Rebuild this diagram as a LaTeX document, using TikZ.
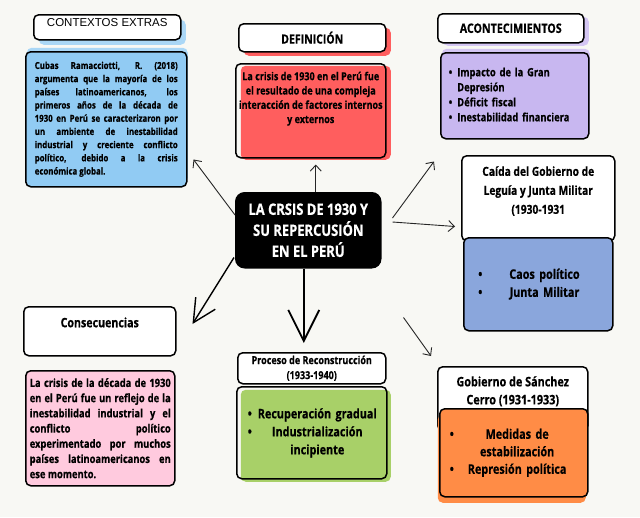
\documentclass[tikz,border=0pt]{standalone}
\usepackage{fontspec}
\setmainfont{Open Sans}
\newfontfamily\cnd{Open Sans}[FakeStretch=0.82,BoldFeatures={FakeBold=0.5}]
\newfontfamily\ars{Liberation Sans}
\usetikzlibrary{arrows.meta,shadows}

\definecolor{bgc}{RGB}{248,248,244}
\definecolor{cblue}{RGB}{145,203,243}
\definecolor{cblueL}{RGB}{170,215,246}
\definecolor{redc}{RGB}{255,94,94}
\definecolor{purc}{RGB}{200,183,240}
\definecolor{purL}{RGB}{212,198,243}
\definecolor{caidc}{RGB}{138,166,220}
\definecolor{pinkc}{RGB}{255,202,222}
\definecolor{grnc}{RGB}{168,208,104}
\definecolor{orgc}{RGB}{255,140,70}

% text held at the top of a box of fixed height
\newcommand{\topbox}[3]{\parbox[c][#1][t]{#2}{\centering #3}}

\begin{document}
\begin{tikzpicture}[x=1pt,y=-1pt,
  box/.style={draw=black,line width=1.5pt,rounded corners=5pt,anchor=north west,inner sep=0pt,align=center},
  ttl/.style={box,fill=white},
  sh/.style n args={3}{drop shadow={shadow xshift=#1,shadow yshift=#2,fill=#3,opacity=1}},
  txt/.style 2 args={font=\cnd\bfseries\fontsize{#1}{#2}\selectfont},
  arr/.style={draw=black!85,line width=0.9pt,-{Straight Barb[length=6pt,width=11pt]}},
  bigarr/.style={draw=black,line width=1.8pt,-{Straight Barb[length=#1,width=#1]}}]
  \fill[bgc] (0,0) rectangle (640,517);
  \useasboundingbox (0,0) rectangle (640,517);

  % contextos
  \node[ttl,sh={5pt}{-5pt}{cblueL},minimum width=147pt,minimum height=25pt,
    font=\ars\fontsize{11.5}{13}\selectfont,text height=9pt,text depth=11pt] (ctxT) at (33,14) {CONTEXTOS EXTRAS};
  \node[box,fill=cblue,sh={1pt}{4pt}{cblueL},minimum width=161pt,minimum height=135pt,
    text width=143pt,align=justify,txt={9.6}{13.2}] (ctxB) at (25,51)
    {Cubas Ramacciotti, R. (2018)\linebreak argumenta que la mayoría de los\linebreak
     países latinoamericanos, los\linebreak primeros años de la década de\linebreak
     1930 en Perú se caracterizaron por\linebreak un ambiente de inestabilidad\linebreak
     industrial y creciente conflicto\linebreak político, debido a la crisis\linebreak
     económica global.};

  % definicion
  \node[ttl,sh={5pt}{-4pt}{redc},minimum width=147pt,minimum height=28pt,txt={12.8}{14}] (defT) at (238,23) {DEFINICIÓN};
  \node[box,sh={5pt}{-2pt}{redc},minimum width=150pt,minimum height=94pt,txt={11}{14.3}] (defB) at (235,63)
    {\topbox{78pt}{150pt}{La crisis de 1930 en el Perú fue\\el resultado de una compleja\\interacción de factores internos\\y externos}};

  % acontecimientos
  \node[ttl,sh={5pt}{-3pt}{purL},minimum width=146pt,minimum height=29pt,txt={13}{14}] (aconT) at (437,13) {ACONTECIMIENTOS};
  \node[box,fill=purc,sh={1pt}{4pt}{purL},minimum width=148pt,minimum height=86pt,
    text width=132pt,align=left,txt={11.4}{15}] (aconB) at (440,52)
    {\begin{tabular}{@{}l@{\hspace{5pt}}l@{}}\textbullet&Impacto de la Gran\\&Depresión\\
     \textbullet&Déficit fiscal\\\textbullet&Inestabilidad financiera\end{tabular}};

  % centro
  \node[box,fill=black,rounded corners=9pt,text=white,minimum width=145pt,minimum height=75pt,txt={15.8}{21}] (ctr) at (235,192)
    {LA CRSIS DE 1930 Y\\SU REPERCUSIÓN\\EN EL PERÚ};

  % caida de leguia
  \node[ttl,minimum width=153pt,minimum height=85pt,txt={12.5}{19}] (caiT) at (461,155)
    {\topbox{64pt}{153pt}{Caída del Gobierno de\\Leguía y Junta Militar\\(1930-1931}};
  \node[box,fill=caidc,minimum width=149pt,minimum height=93pt,text width=120pt,align=left,txt={13.2}{18}] (caiB) at (463,237)
    {\begin{tabular}{@{}l@{\hspace{27pt}}c@{}}\textbullet&Caos político\\\textbullet&Junta Militar\end{tabular}};

  % consecuencias
  \node[ttl,minimum width=152pt,minimum height=49pt,txt={13}{14},text height=9pt,text depth=17pt] (conT) at (23,306) {Consecuencias};
  \node[box,fill=pinkc,minimum width=149pt,minimum height=115pt,text width=141pt,align=justify,txt={11.4}{15.2}] (conB) at (25,370)
    {La crisis de la década de 1930\linebreak en el Perú fue un reflejo de la\linebreak
     inestabilidad industrial y el\linebreak conflicto político\linebreak
     experimentado por muchos\linebreak países latinoamericanos en\linebreak ese momento.};

  % reconstruccion
  \node[ttl,minimum width=148pt,minimum height=31pt,txt={11}{15}] (proT) at (237,352) {Proceso de Reconstrucción\\(1933-1940)};
  \node[box,sh={4pt}{-3pt}{grnc},minimum width=150pt,minimum height=92pt,text width=128pt,align=left,txt={13.2}{18}] (proB) at (236,386)
    {\begin{tabular}{@{}l@{\hspace{6pt}}c@{}}\textbullet&Recuperación gradual\\\textbullet&Industrialización\\&incipiente\end{tabular}};

  % sanchez cerro
  \node[ttl,minimum width=150pt,minimum height=64pt,txt={13.2}{18}] (sanT) at (437,366)
    {\topbox{45pt}{150pt}{Gobierno de Sánchez\\Cerro (1931-1933)}};
  \node[box,fill=orgc,sh={-2pt}{-6pt}{orgc},minimum width=148pt,minimum height=88pt,text width=128pt,align=left,txt={13.2}{17.5}] (sanB) at (439,408)
    {\begin{tabular}{@{}l@{\hspace{14pt}}c@{}}\textbullet&Medidas de\\&estabilización\\\textbullet&Represión política\end{tabular}};

  % flechas
  \draw[arr] ([shift={(0,23)}]ctr.north west) -- ([shift={(6,-28)}]ctxB.south east);
  \draw[arr] ([shift={(7.5,0)}]ctr.north) -- ([shift={(5,6)}]defB.south);
  \draw[arr] ([shift={(11,26)}]ctr.north east) -- ([shift={(-6,22)}]aconB.south west);
  \draw[arr] ([shift={(11,30)}]ctr.north east) -- ([shift={(-6,-15)}]caiT.south west);
  \draw[arr] ([shift={(22,49)}]ctr.south east) -- ([shift={(-6,-10)}]sanT.north west);
  \draw[bigarr=31pt] ([shift={(-4.5,0)}]ctr.south) -- ([shift={(-8,-9)}]proT.north);
  \draw[bigarr=23pt,line width=1.4pt] ([shift={(-1,-11)}]ctr.south west) -- ([shift={(16,18)}]conT.north east);
\end{tikzpicture}
\end{document}
